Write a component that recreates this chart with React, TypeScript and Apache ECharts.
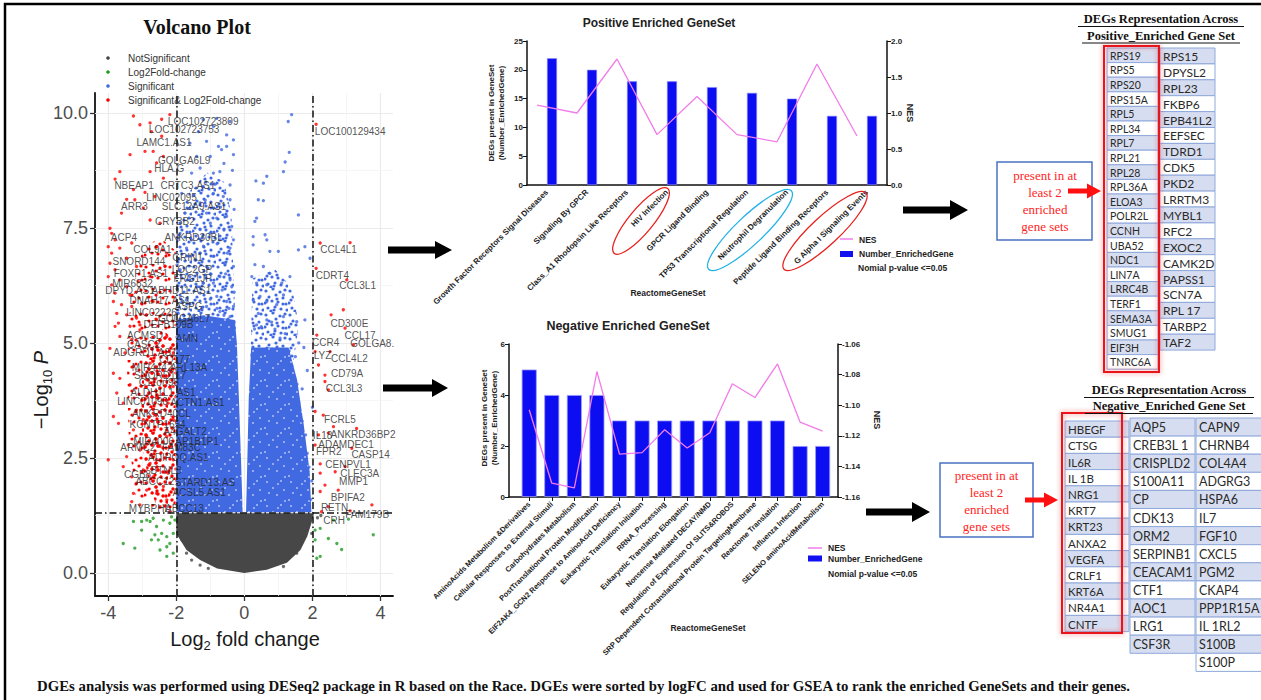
import React, { useEffect, useRef } from "react";
import * as echarts from "echarts";

// ---------------- Volcano plot data ----------------
const volcanoXTicks = [-4, -2, 0, 2, 4];
const volcanoYTicks = [0, 2.5, 5, 7.5, 10];
const volcanoXMinor = [-3, -1, 1, 3];
const volcanoYMinor = [1.25, 3.75, 6.25, 8.75];
const fcCutoffs = [-2, 2];
const pCutoff = 1.3;

// outlines of the dense parts of the point clouds
const greyCore = [[-2.0, 1.3], [2.05, 1.3], [1.98, 1.1], [1.85, 0.8], [1.65, 0.5], [1.25, 0.22], [0.66, 0.07], [0.0, 0.0], [-0.8, 0.1], [-1.3, 0.28], [-1.7, 0.5], [-2.0, 0.85]];
const blueCoreLeft = [[-2.0, 1.32], [-0.05, 1.32], [-0.1, 2.5], [-0.16, 3.8], [-0.22, 5.0], [-0.28, 5.5], [-1.2, 5.6], [-2.0, 5.5]];
const blueMidLeft = [[-2.0, 5.3], [-0.25, 5.3], [-0.32, 6.5], [-0.38, 7.8], [-0.6, 8.5], [-1.1, 8.7], [-1.6, 8.3], [-2.0, 7.6]];
const blueCoreRight = [[0.05, 1.32], [1.97, 1.32], [1.92, 2.2], [1.75, 3.2], [1.55, 4.2], [1.3, 4.9], [0.2, 4.9], [0.13, 3.8], [0.09, 2.5]];
const blueMidRight = [[0.18, 4.7], [1.45, 4.6], [1.6, 5.4], [1.4, 6.2], [0.9, 6.6], [0.24, 6.4]];
const redCore = [[-2.02, 1.4], [-2.02, 5.0], [-2.4, 5.3], [-2.85, 4.9], [-3.05, 4.0], [-3.0, 2.8], [-2.8, 1.9], [-2.55, 1.4]];
const redMid = [[-2.02, 5.0], [-2.02, 7.0], [-2.5, 7.3], [-3.0, 7.0], [-3.35, 6.0], [-3.45, 4.5], [-3.4, 3.0], [-3.2, 1.6], [-2.6, 1.4]];

const greyPoints = [[1.64, 1.15], [1.83, 1.01], [1.74, 0.79], [1.44, 0.57], [1.54, 0.43], [1.25, 0.28], [1.93, 1.15], [1.98, 0.86], [-1.7, 0.43], [-1.55, 0.28], [-1.3, 0.17], [-1.84, 0.72], [-1.06, 0.1], [1.15, 0.14], [2.15, 1.2], [2.25, 1.25]];
const greenPoints = [[-3.56, 0.64], [-3.22, 0.54], [-3.26, 1.12], [-3.02, 0.93], [-2.73, 0.72], [-2.58, 1.01], [-2.48, 0.5], [-2.28, 0.36], [-2.19, 0.64], [-2.09, 0.86], [-2.38, 1.15], [-2.68, 1.19], [-2.19, 1.08], [-2.04, 1.15], [-2.87, 1.15], [-2.28, 0.79], [-2.09, 0.43], [-2.43, 0.86], [-2.77, 1.12], [-2.14, 1.22], [-2.63, 0.83], [-3.02, 1.12], [-2.28, 0.57], [-2.53, 0.72], [2.08, 0.93], [2.23, 0.97], [2.47, 0.75], [2.08, 0.72], [2.72, 0.64], [2.86, 0.51], [2.13, 0.32], [2.23, 0.36], [3.79, 0.83], [2.62, 1.15], [3.06, 1.17]];
const bluePoints = [
  [1.39, 9.96], [1.29, 9.81], [1.32, 9.14], [1.2, 8.93], [1.15, 8.72], [0.66, 8.62], [0.34, 8.52], [0.56, 8.47], [0.41, 8.11], [0.56, 8.09], [1.59, 7.78], [0.36, 7.71], [0.31, 7.64], [0.26, 7.31], [0.61, 7.35], [0.26, 7.13], [0.66, 7.24], [0.75, 6.99], [1.0, 6.99], [1.59, 7.02], [1.93, 6.84], [1.78, 7.09], [0.31, 6.7], [0.56, 6.66], [0.75, 6.51], [0.22, 6.44], [0.36, 6.3], [0.66, 6.26], [1.1, 6.3], [1.34, 6.44], [0.46, 6.01], [0.26, 5.93], [0.66, 5.9], [0.95, 5.83], [1.15, 6.04], [0.41, 5.64], [0.66, 5.5], [1.15, 5.57], [1.54, 5.46], [1.78, 5.5], [0.36, 5.39],
  [1.95, 1.6], [1.9, 2.3], [1.85, 2.6], [1.7, 3.3], [1.6, 3.7], [1.55, 4.1], [1.4, 4.5], [1.7, 4.0], [1.8, 3.0], [1.98, 2.0], [1.3, 4.8], [1.5, 4.7], [1.6, 5.0], [1.2, 5.2], [0.9, 5.3], [0.3, 5.3], [0.5, 5.35], [0.8, 5.45], [1.05, 5.1], [1.85, 4.4], [1.75, 4.9], [2.0, 3.6],
  [-0.91, 9.7], [-0.52, 9.52], [-1.11, 9.38], [-0.76, 9.27], [-0.32, 9.09], [-0.67, 9.2], [-1.3, 8.8], [-0.91, 8.69], [-0.72, 8.72], [-0.42, 8.43], [-1.21, 8.4], [-0.91, 8.25], [-0.62, 8.18], [-0.42, 8.11], [-1.3, 8.04], [-1.11, 7.82], [-0.81, 7.71], [-0.52, 7.75], [-0.37, 7.53], [-1.3, 7.46], [-1.01, 7.38], [-0.72, 7.24], [-0.42, 7.06], [-0.32, 7.24], [-1.7, 7.06], [-1.3, 6.95], [-0.91, 6.88], [-0.57, 6.73], [-0.32, 6.66], [-1.11, 6.66], [-0.72, 6.44], [-0.42, 6.37], [-1.6, 6.44], [-0.91, 6.3], [-0.37, 6.22], [-1.3, 6.08], [-0.81, 6.01], [-0.52, 5.9], [-0.32, 5.79], [-1.7, 5.93], [-1.11, 5.79], [-0.72, 5.68], [-0.42, 5.57], [-0.91, 5.5], [-1.3, 5.39], [-1.79, 5.61], [-0.32, 5.32],
  [-1.89, 7.38], [-1.75, 7.82], [-1.84, 8.25], [-1.55, 8.69], [-1.4, 9.05], [-1.6, 9.34], [-1.35, 9.59], [-1.21, 9.85], [-0.81, 9.88], [-0.42, 9.81], [-0.32, 9.41], [-0.52, 9.27], [-1.89, 6.59], [-1.84, 6.22], [-1.94, 5.64], [-1.5, 5.57], [-1.4, 6.22], [-1.45, 6.8], [-1.55, 7.24],
  [-0.6, 8.9], [-1.0, 9.05], [-0.35, 8.75], [-0.85, 8.45], [-1.15, 8.1], [-0.7, 7.95], [-0.3, 7.9], [-1.0, 7.6], [-0.6, 7.45], [-1.2, 7.1], [-0.8, 7.15], [-0.5, 6.95], [-1.0, 6.5], [-0.55, 6.5], [-0.3, 6.1], [-1.2, 6.3], [-0.65, 6.15], [-1.0, 5.95], [-0.45, 5.75], [-0.8, 5.75], [-0.6, 5.6], [-1.25, 5.75], [-1.6, 5.5], [-1.85, 5.2], [-1.7, 5.25],
];
const redPoints = [
  [-3.26, 9.93], [-2.43, 9.86], [-2.19, 9.96], [-2.77, 9.78], [-3.07, 9.74], [-2.73, 9.59], [-2.43, 9.49], [-3.36, 9.09], [-2.92, 9.16], [-2.68, 9.16], [-2.38, 9.05], [-3.66, 8.72], [-2.77, 8.72], [-2.58, 8.91], [-3.8, 8.56], [-2.38, 8.58], [-3.26, 8.33], [-2.92, 8.27], [-3.46, 8.12], [-3.22, 8.11], [-2.63, 8.18], [-3.61, 7.82], [-2.97, 7.93], [-2.77, 7.67], [-2.48, 7.6], [-3.95, 7.49], [-3.9, 7.38], [-3.8, 7.24], [-4.0, 7.09], [-3.66, 7.06], [-3.31, 7.17], [-2.58, 7.09], [-3.9, 6.95], [-3.95, 6.73], [-3.46, 6.84], [-3.17, 6.66], [-3.8, 6.59], [-4.0, 6.44], [-3.66, 6.37], [-3.9, 6.26], [-3.46, 6.22], [-3.12, 6.33], [-2.77, 6.44], [-2.33, 6.66], [-2.28, 6.95], [-3.8, 6.08], [-3.36, 6.04], [-3.85, 5.9], [-3.61, 5.83], [-3.31, 5.79], [-3.02, 5.86], [-2.68, 5.9], [-3.75, 5.64], [-3.46, 5.61], [-3.17, 5.54], [-2.87, 5.61], [-2.58, 5.5], [-3.7, 5.43], [-3.36, 5.36], [-3.07, 5.39],
  [-3.95, 4.88], [-3.8, 5.36], [-3.66, 5.14], [-3.51, 4.78], [-3.85, 4.34], [-3.66, 4.23], [-3.75, 3.91], [-3.56, 3.69], [-3.85, 3.4], [-3.7, 3.25], [-4.0, 2.46], [-3.56, 2.31], [-3.41, 2.78], [-3.46, 2.53], [-3.31, 2.09], [-3.26, 1.73], [-3.31, 1.55], [-3.07, 1.48], [-2.87, 1.8], [-3.17, 1.95], [-3.36, 4.09], [-3.26, 4.49], [-3.31, 5.07], [-3.07, 5.28], [-3.17, 3.54], [-3.26, 3.11], [-2.97, 3.33], [-3.07, 2.67], [-2.77, 2.38], [-2.68, 2.09], [-2.58, 1.73], [-2.48, 1.44], [-2.28, 1.59], [-2.19, 1.33], [-2.38, 1.88], [-2.24, 2.17], [-2.09, 2.46], [-2.14, 2.75], [-2.28, 2.96], [-2.09, 3.33], [-2.24, 3.69], [-2.09, 4.05], [-2.19, 4.41], [-2.09, 4.78], [-2.28, 5.14], [-2.58, 4.92], [-2.77, 4.56], [-2.87, 4.2], [-2.58, 3.83], [-2.68, 3.47], [-2.87, 2.96], [-2.48, 2.75], [-2.97, 2.24], [-2.58, 2.46],
  [2.11, 9.75], [2.23, 7.17], [3.11, 7.18], [2.11, 6.62], [3.01, 6.37], [2.91, 5.72], [2.55, 5.61], [2.96, 5.32], [2.13, 5.17], [3.21, 4.96], [2.08, 4.81], [2.52, 4.81], [2.18, 4.52], [2.37, 4.3], [2.37, 4.16], [2.47, 3.98], [2.08, 3.51], [2.32, 3.43], [2.62, 3.18], [3.3, 3.14], [2.18, 3.0], [2.47, 3.04], [2.08, 2.78], [3.16, 2.71], [2.23, 2.37], [2.96, 2.31], [2.67, 2.2], [2.23, 2.17], [2.37, 1.91], [2.23, 1.77], [2.76, 1.8], [2.47, 1.44], [2.27, 1.33], [3.75, 1.48], [3.11, 1.35],
];
const geneLabels: [number, number, string][] = [
  [-1.21, 9.8, "LOC102723809"], [-1.77, 9.63, "LOC102723753"], [-2.36, 9.35, "LAMC1.AS1"], [-1.77, 8.96, "GOLGA6L9"], [-2.21, 8.78, "HLA.G"], [-3.24, 8.41, "NBEAP1"], [-1.66, 8.43, "CRTC3.AS1"], [-2.14, 8.17, "LINC02095"], [-3.23, 7.96, "ARR3"], [-1.48, 7.96, "SLC12A9.AS1"], [-2.04, 7.63, "CRYBB2"], [-3.54, 7.28, "ACP4"], [-1.49, 7.3, "ANKRD30BL"], [-2.7, 7.04, "COL9A1"], [-1.67, 6.85, "GRIN1"], [-3.1, 6.76, "SNORD144"], [-1.54, 6.59, "LOC2GP"], [-3.04, 6.5, "FOXP1.AS1"], [-1.52, 6.41, "FRG1JP"], [-3.29, 6.3, "MIR6832"], [-3.36, 6.13, "DPYD.AS1"], [-1.85, 6.13, "ABHD11.AS1"], [-2.48, 5.93, "DNAH17.AS1"], [-1.64, 5.8, "ASPG"], [-2.73, 5.67, "LINC02226"], [-1.77, 5.52, "GOLGA6L7"], [-2.23, 5.39, "DEFB109B"], [-2.92, 5.17, "ACMSD"], [-1.69, 5.09, "AMN"], [-2.96, 4.96, "CASC2"], [-2.92, 4.8, "ADGRD1.AS1"], [-2.05, 4.63, "CD177"], [-2.71, 4.46, "MIR4442"], [-1.64, 4.46, "ARL13A"], [-2.48, 4.3, "SNORD117"], [-2.51, 4.13, "C11orf98"], [-2.39, 3.93, "ALDH1L1.AS1"], [-2.99, 3.72, "LINC01090"], [-1.38, 3.7, "ACTN1.AS1"], [-2.44, 3.46, "ANKRD40CL"], [-2.55, 3.22, "KCNTP1654"], [-1.74, 3.07, "A4GALT2"], [-2.67, 2.85, "MIR4006"], [-1.39, 2.85, "AP1B1P1"], [-3.13, 2.72, "ARMC2"], [-1.85, 2.72, "FAM83C"], [-1.94, 2.5, "ADIPOQ.AS1"], [-2.3, 2.22, "BTNL8"], [-3.14, 2.15, "CGB8"], [-2.63, 1.98, "ABCC12"], [-1.16, 1.96, "STARD13.AS"], [-1.33, 1.74, "ACSL5.AS1"], [-2.79, 1.41, "MYBPHL"], [-1.76, 1.41, "ABCC13"],
  [3.11, 9.59, "LOC100129434"], [2.77, 7.02, "CCL4L1"], [2.59, 6.46, "CDRT4"], [3.33, 6.24, "CCL3L1"], [3.09, 5.43, "CD300E"], [3.4, 5.15, "CCL17"], [3.76, 4.98, "GOLGA8."], [2.39, 5.0, "CCR4"], [2.3, 4.72, "LYZ"], [3.09, 4.67, "CCL4L2"], [3.02, 4.33, "CD79A"], [2.93, 4.0, "CCL3L3"], [2.81, 3.33, "FCRL5"], [3.49, 3.02, "ANKRD36BP2"], [2.3, 2.98, "IL18"], [2.99, 2.8, "ADAMDEC1"], [2.48, 2.63, "FPR2"], [3.71, 2.57, "CASP14"], [3.05, 2.35, "CENPVL1"], [3.39, 2.17, "CLEC3A"], [3.21, 1.98, "MMP1"], [3.04, 1.65, "BPIFA2"], [2.65, 1.43, "RETN"], [3.61, 1.28, "FAM179B"], [2.64, 1.15, "CRH"],
];
const volcanoLegend = ["NotSignificant", "Log2Fold-change", "Significant", "Significant& Log2Fold-change"];

// ---------------- Enriched gene set data ----------------
const posCats = ["Growth Factor Receptors Signal Diseases", "Signaling By GPCR", "Class_A1 Rhodopsin Like Receptors", "HIV Infection", "GPCR Ligand Binding", "TP53 Transcriptional Regulation", "Neutrophil Degranulation", "Peptide Ligand Binding Receptors", "G Alpha I Signaling Events"];
const posCounts = [22, 20, 18, 18, 17, 16, 15, 12, 12];
const posNES = [1.11, 1.0, 1.75, 0.7, 1.23, 0.7, 0.6, 1.68, 0.68];

const negCats = ["AminoAcids Metabolism &Derivatives", "Cellular Responses to External Stimuli", "Carbohydrates Metabolism", "PostTranslational Protein Modification", "EIF2AK4_GCN2 Response to AminoAcid Deficiency", "Eukaryotic Translation Initiation", "RRNA_Processing", "Eukaryotic Translation Elongation", "Nonsense Mediated DECAY/NMD", "Regulation of Expression Of SLITS&ROBOS", "SRP Dependent Cotranslational Protein TargetingMembrane", "Reactome Translation", "Influenza Infection", "SELENO aminoAcidMetabolism"];
const negCounts = [5, 4, 4, 4, 3, 3, 3, 3, 3, 3, 3, 3, 2, 2];
const negNES = [-1.103, -1.151, -1.154, -1.078, -1.132, -1.131, -1.116, -1.128, -1.118, -1.086, -1.095, -1.073, -1.111, -1.117];

const legendLabels = ["NES", "Number_EnrichedGene", "Nomial p-value <=0.05"];

// ---------------- Gene tables ----------------
const posGenesShared = ["RPS19", "RPS5", "RPS20", "RPS15A", "RPL5", "RPL34", "RPL7", "RPL21", "RPL28", "RPL36A", "ELOA3", "POLR2L", "CCNH", "UBA52", "NDC1", "LIN7A", "LRRC4B", "TERF1", "SEMA3A", "SMUG1", "EIF3H", "TNRC6A"];
const posGenesOther = ["RPS15", "DPYSL2", "RPL23", "FKBP6", "EPB41L2", "EEFSEC", "TDRD1", "CDK5", "PKD2", "LRRTM3", "MYBL1", "RFC2", "EXOC2", "CAMK2D", "PAPSS1", "SCN7A", "RPL 17", "TARBP2", "TAF2"];
const negGenesShared = ["HBEGF", "CTSG", "IL6R", "IL 1B", "NRG1", "KRT7", "KRT23", "ANXA2", "VEGFA", "CRLF1", "KRT6A", "NR4A1", "CNTF"];
const negGenesOtherA = ["AQP5", "CREB3L 1", "CRISPLD2", "S100A11", "CP", "CDK13", "ORM2", "SERPINB1", "CEACAM1", "CTF1", "AOC1", "LRG1", "CSF3R"];
const negGenesOtherB = ["CAPN9", "CHRNB4", "COL4A4", "ADGRG3", "HSPA6", "IL7", "FGF10", "CXCL5", "PGM2", "CKAP4", "PPP1R15A", "IL 1RL2", "S100B", "S100P"];

const boxLines = ["present in at", "least 2", "enriched", "gene sets"];
const caption = "DGEs analysis was performed using DESeq2 package in R based on the Race. DGEs were sorted by logFC and used for GSEA to rank the enriched GeneSets and their genes.";

const SANS = "Liberation Sans, Arial, sans-serif";
const SERIF = "Liberation Serif, Times New Roman, serif";
const CELL = "Lato, Carlito, sans-serif";

// dotted texture tiles (style only) used to fill dense parts of the clouds
const TILE_MED = [[2, 3], [9, 1], [16, 4], [21, 2], [5, 9], [12, 7], [19, 10], [1, 15], [8, 13], [14, 14], [22, 16], [4, 20], [11, 19], [17, 21], [23, 22], [7, 23], [13, 11], [19, 16], [3, 12], [10, 22]];
const TILE_SPECK = [[3, 2], [9, 8], [5, 13], [14, 4], [13, 15], [20, 10], [21, 21], [1, 20], [17, 1]];

function dotPattern(color: string, dots: number[][], r: number, bg: string | null) {
  const size = 24;
  const svg = `<svg xmlns='http://www.w3.org/2000/svg' width='${size}' height='${size}'>` +
    (bg ? `<rect width='${size}' height='${size}' fill='${bg}'/>` : "") +
    dots.map((d) => `<circle cx='${d[0]}' cy='${d[1]}' r='${r}' fill='${color}'/>`).join("") + `</svg>`;
  return { image: "data:image/svg+xml;charset=utf-8," + encodeURIComponent(svg), repeat: "repeat", imageWidth: size, imageHeight: size };
}

function txt(x: number, y: number, text: string, o: any = {}) {
  const align = o.align || "left";
  const va = o.va || "middle";
  return {
    type: "text", x, y, silent: true, rotation: o.rotation || 0, z: o.z || 50,
    style: {
      text, fontSize: o.size || 10, fontFamily: o.family || SANS, fontWeight: o.weight || "normal",
      fontStyle: o.fstyle || "normal", fill: o.color || "#222",
      align, verticalAlign: va, textAlign: align, textVerticalAlign: va, rich: o.rich,
    },
  };
}

function arrow(x1: number, x2: number, y: number, shaft: number, headH: number, headL: number, color: string) {
  const hb = x2 - headL;
  return {
    type: "polygon", silent: true, z: 40,
    shape: { points: [[x1, y - shaft / 2], [hb, y - shaft / 2], [hb, y - headH / 2], [x2, y], [hb, y + headH / 2], [hb, y + shaft / 2], [x1, y + shaft / 2]] },
    style: { fill: color },
  };
}

function tableCol(names: string[], x: number, top: number, w: number, h: number, fs: number, els: any[]) {
  names.forEach((n, i) => {
    els.push({
      type: "rect", silent: true, z: 20,
      shape: { x, y: top + i * h, width: w, height: h },
      style: { fill: i % 2 === 0 ? "#d7ddf0" : "#ffffff", stroke: "#8fa9db", lineWidth: 1 },
    });
    els.push(txt(x + 3, top + i * h + h / 2 + 0.5, n, { size: fs, family: CELL, color: "#2a2a2a", z: 21 }));
  });
}

function polySeries(pts: number[][], fill: any, z: number) {
  return {
    type: "custom", xAxisIndex: 0, yAxisIndex: 0, z, silent: true,
    data: [pts[0]],
    renderItem: (_p: any, api: any) => ({
      type: "polygon",
      shape: { points: pts.map((p) => api.coord(p)) },
      style: { fill },
    }),
  };
}

function scatter(pts: number[][], color: string, z: number) {
  return {
    type: "scatter", xAxisIndex: 0, yAxisIndex: 0, z, silent: true,
    symbolSize: 3.3, itemStyle: { color }, data: pts,
  };
}

function buildOption() {
  const els: any[] = [];
  els.push({ type: "rect", silent: true, z: 60, shape: { x: 5, y: 4, width: 1260, height: 700 }, style: { fill: "none", stroke: "#000", lineWidth: 2.5 } });

  els.push(txt(197, 27, "Volcano Plot", { size: 20, family: SERIF, weight: "bold", align: "center", color: "#111" }));
  const legColors = ["#444444", "#1f9a1f", "#4169e1", "#ff0000"];
  volcanoLegend.forEach((l, i) => {
    els.push({ type: "circle", silent: true, z: 50, shape: { cx: 108, cy: 58 + i * 14, r: 1.8 }, style: { fill: legColors[i] } });
    els.push(txt(128, 58 + i * 14, l, { size: 10, color: "#333" }));
  });
  els.push(txt(41, 390, "{a|−Log}{b|10}{c| P}", {
    rotation: Math.PI / 2, align: "center",
    rich: {
      a: { fontSize: 20, fontFamily: SANS, fill: "#1a1a1a", color: "#1a1a1a", lineHeight: 26, verticalAlign: "middle" },
      b: { fontSize: 13, fontFamily: SANS, fill: "#1a1a1a", color: "#1a1a1a", lineHeight: 26, verticalAlign: "bottom" },
      c: { fontSize: 20, fontFamily: SANS, fontStyle: "italic", fill: "#1a1a1a", color: "#1a1a1a", lineHeight: 26, verticalAlign: "middle" },
    },
  }));
  els.push(txt(245, 639, "{a|Log}{b|2}{a| fold change}", {
    align: "center",
    rich: {
      a: { fontSize: 20, fontFamily: SANS, fill: "#1a1a1a", color: "#1a1a1a", lineHeight: 26, verticalAlign: "middle" },
      b: { fontSize: 13, fontFamily: SANS, fill: "#1a1a1a", color: "#1a1a1a", lineHeight: 26, verticalAlign: "bottom" },
    },
  }));

  els.push(txt(659, 23, "Positive Enriched GeneSet", { size: 12, weight: "bold", align: "center", color: "#222" }));
  els.push(txt(491, 113, "DEGs present in GeneSet", { size: 8, weight: "bold", align: "center", rotation: Math.PI / 2 }));
  els.push(txt(501, 113, "(Number_EnrichedGene)", { size: 8, weight: "bold", align: "center", rotation: Math.PI / 2 }));
  els.push(txt(910, 113, "NES", { size: 9, weight: "bold", align: "center", rotation: -Math.PI / 2 }));
  els.push(txt(668, 293, "ReactomeGeneSet", { size: 8.5, weight: "bold", align: "center" }));
  els.push({ type: "line", silent: true, z: 50, shape: { x1: 840, y1: 239, x2: 853, y2: 239 }, style: { stroke: "#f27ce9", lineWidth: 1.5 } });
  els.push({ type: "rect", silent: true, z: 50, shape: { x: 840, y: 251, width: 13, height: 6 }, style: { fill: "#1010f0" } });
  els.push(txt(859, 239.5, legendLabels[0], { size: 8.5, weight: "bold" }));
  els.push(txt(859, 254, legendLabels[1], { size: 8.5, weight: "bold" }));
  els.push(txt(858, 268, legendLabels[2], { size: 8.5, weight: "bold" }));
  els.push({ type: "ellipse", silent: true, z: 45, x: 641, y: 221, rotation: 0.88, shape: { cx: 0, cy: 0, rx: 42, ry: 12 }, style: { fill: "none", stroke: "#e8201c", lineWidth: 1.3 } });
  els.push({ type: "ellipse", silent: true, z: 45, x: 750, y: 230, rotation: 0.76, shape: { cx: 0, cy: 0, rx: 57, ry: 14 }, style: { fill: "none", stroke: "#22b2e6", lineWidth: 1.3 } });
  els.push({ type: "ellipse", silent: true, z: 45, x: 825, y: 231, rotation: 0.75, shape: { cx: 0, cy: 0, rx: 56, ry: 14 }, style: { fill: "none", stroke: "#e8201c", lineWidth: 1.3 } });

  els.push(txt(628, 326, "Negative Enriched GeneSet", { size: 12.5, weight: "bold", align: "center", color: "#222" }));
  els.push(txt(484, 418, "DEGs present in GeneSet", { size: 8, weight: "bold", align: "center", rotation: Math.PI / 2 }));
  els.push(txt(494, 418, "(Number_EnrichedGene)", { size: 8, weight: "bold", align: "center", rotation: Math.PI / 2 }));
  els.push(txt(877, 420, "NES", { size: 9, weight: "bold", align: "center", rotation: -Math.PI / 2 }));
  els.push(txt(708, 628, "ReactomeGeneSet", { size: 8.5, weight: "bold", align: "center" }));
  els.push({ type: "line", silent: true, z: 50, shape: { x1: 808, y1: 548, x2: 822, y2: 548 }, style: { stroke: "#f27ce9", lineWidth: 1.5 } });
  els.push({ type: "rect", silent: true, z: 50, shape: { x: 808, y: 555.5, width: 14, height: 6 }, style: { fill: "#1010f0" } });
  els.push(txt(828, 548, legendLabels[0], { size: 8.5, weight: "bold" }));
  els.push(txt(828, 558.5, legendLabels[1], { size: 8.5, weight: "bold" }));
  els.push(txt(828, 574, legendLabels[2], { size: 8.5, weight: "bold" }));

  els.push(arrow(388, 452, 250, 7, 18, 17, "#000"));
  els.push(arrow(383, 448, 388, 7, 18, 16, "#000"));
  els.push(arrow(903, 968, 210, 7, 20, 18, "#000"));
  els.push(arrow(866, 930, 512, 7, 20, 18, "#000"));

  els.push({ type: "rect", silent: true, z: 30, shape: { x: 997, y: 162, width: 95, height: 78 }, style: { fill: "#fff", stroke: "#4a72c4", lineWidth: 1.5 } });
  boxLines.forEach((l, i) => els.push(txt(1045, 175.5 + i * 17, l, { size: 13, family: SERIF, color: "#ff2424", align: "center", z: 31 })));
  els.push(arrow(1068, 1101, 191, 5, 15, 14, "#ff1010"));
  els.push({ type: "rect", silent: true, z: 30, shape: { x: 940, y: 463, width: 93, height: 74 }, style: { fill: "#fff", stroke: "#4a72c4", lineWidth: 1.5 } });
  boxLines.forEach((l, i) => els.push(txt(986.5, 475.5 + i * 17, l, { size: 13, family: SERIF, color: "#ff2424", align: "center", z: 31 })));
  els.push(arrow(1025, 1058, 500, 5, 15, 14, "#ff1010"));

  els.push(txt(1161, 19, "DEGs Representation Across", { size: 12.5, family: SERIF, weight: "bold", align: "center", color: "#111" }));
  els.push(txt(1161, 35.5, "Positive_Enriched Gene Set", { size: 12.5, family: SERIF, weight: "bold", align: "center", color: "#111" }));
  els.push({ type: "line", silent: true, z: 50, shape: { x1: 1078, y1: 26.5, x2: 1244, y2: 26.5 }, style: { stroke: "#111", lineWidth: 1 } });
  els.push({ type: "line", silent: true, z: 50, shape: { x1: 1082, y1: 43, x2: 1240, y2: 43 }, style: { stroke: "#111", lineWidth: 1 } });
  els.push(txt(1169, 390, "DEGs Representation Across", { size: 12.5, family: SERIF, weight: "bold", align: "center", color: "#111" }));
  els.push(txt(1169, 406, "Negative_Enriched Gene Set", { size: 12.5, family: SERIF, weight: "bold", align: "center", color: "#111" }));
  els.push({ type: "line", silent: true, z: 50, shape: { x1: 1084, y1: 397.5, x2: 1254, y2: 397.5 }, style: { stroke: "#111", lineWidth: 1 } });
  els.push({ type: "line", silent: true, z: 50, shape: { x1: 1085, y1: 413.5, x2: 1253, y2: 413.5 }, style: { stroke: "#111", lineWidth: 1 } });

  tableCol(posGenesShared, 1107, 48, 51, 14.6, 10.5, els);
  tableCol(posGenesOther, 1160, 48, 55, 15.9, 12, els);
  tableCol(negGenesShared, 1065, 421, 64, 16.2, 11.5, els);
  tableCol(negGenesOtherA, 1130, 418, 65, 18.1, 12.5, els);
  tableCol(negGenesOtherB, 1196, 418, 66, 18.1, 12.5, els);
  els.push({ type: "rect", silent: true, z: 25, shape: { x: 1104, y: 46, width: 55, height: 326 }, style: { fill: "none", stroke: "#e8141c", lineWidth: 2, shadowBlur: 5, shadowColor: "rgba(255,40,40,0.6)" } });
  els.push({ type: "rect", silent: true, z: 25, shape: { x: 1062, y: 413, width: 60, height: 220 }, style: { fill: "none", stroke: "#e8141c", lineWidth: 2, shadowBlur: 5, shadowColor: "rgba(255,40,40,0.6)" } });

  els.push(txt(37, 686, caption, { size: 14.8, family: SERIF, weight: "bold", color: "#111" }));

  const axisBlack = { show: true, onZero: false, lineStyle: { color: "#111", width: 1.5 } };
  const smallLabel = { fontSize: 8, fontWeight: "bold", color: "#222", fontFamily: SANS };
  const negIdx = negCats.map((_, i) => i);

  const blueDense = dotPattern("#ffffff", TILE_SPECK, 0.8, "#4169e1");
  const blueMed = dotPattern("#4169e1", TILE_MED, 1.6, null);
  const redDense = dotPattern("#ff0000", TILE_MED, 1.7, null);
  const redMedium = dotPattern("#ff0000", TILE_MED.slice(0, 11), 1.6, null);

  const series: any[] = [
    {
      type: "line", xAxisIndex: 0, yAxisIndex: 0, data: [], silent: true,
      markLine: {
        silent: true, symbol: "none", z: 1, label: { show: false },
        lineStyle: { color: "#ebebeb", width: 1.2, type: "solid" },
        data: [
          ...volcanoXTicks.map((v) => ({ xAxis: v })),
          ...volcanoYTicks.map((v) => ({ yAxis: v })),
          ...volcanoXMinor.map((v) => ({ xAxis: v, lineStyle: { color: "#f2f2f2", width: 0.7, type: "solid" } })),
          ...volcanoYMinor.map((v) => ({ yAxis: v, lineStyle: { color: "#f2f2f2", width: 0.7, type: "solid" } })),
        ],
      },
    },
    polySeries(greyCore, "#474747", 2),
    polySeries(blueMidLeft, blueMed, 2),
    polySeries(blueMidRight, blueMed, 2),
    polySeries(blueCoreLeft, blueDense, 2),
    polySeries(blueCoreRight, blueDense, 2),
    polySeries(redMid, redMedium, 2),
    polySeries(redCore, redDense, 2),
    scatter(greyPoints, "#474747", 3),
    scatter(greenPoints, "#1f9a1f", 3),
    scatter(bluePoints, "#4169e1", 3),
    scatter(redPoints, "#ff0000", 3),
    {
      type: "line", xAxisIndex: 0, yAxisIndex: 0, data: [], silent: true,
      markLine: {
        silent: true, symbol: "none", z: 6, label: { show: false },
        lineStyle: { color: "#111", width: 1.5, type: [7, 3, 1.5, 3] },
        data: [...fcCutoffs.map((v) => ({ xAxis: v })), { yAxis: pCutoff }],
      },
    },
    {
      type: "scatter", xAxisIndex: 0, yAxisIndex: 0, z: 8, silent: true, symbolSize: 0,
      data: geneLabels.map((g) => ({ value: [g[0], g[1]], name: g[2] })),
      label: { show: true, position: "inside", formatter: "{b}", fontSize: 10, color: "#262626", fontFamily: SANS },
      labelLayout: { hideOverlap: false },
    },
    { type: "bar", xAxisIndex: 1, yAxisIndex: 1, barWidth: 10, barGap: "0%", data: posCounts.map(() => "-"), silent: true },
    { type: "bar", xAxisIndex: 1, yAxisIndex: 1, barWidth: 10, barGap: "0%", data: posCounts, silent: true, itemStyle: { color: "#0d0df2", borderColor: "#8b8bff", borderWidth: 0.6 } },
    { type: "line", xAxisIndex: 2, yAxisIndex: 2, data: posNES.map((v, i) => [i, v]), showSymbol: false, silent: true, z: 4, lineStyle: { color: "#f27ce9", width: 1.3 } },
    { type: "bar", xAxisIndex: 3, yAxisIndex: 3, barWidth: 15, data: negCounts.map((v, i) => [i, v]), silent: true, itemStyle: { color: "#0d0df2", borderColor: "#9a9aff", borderWidth: 0.8 } },
    { type: "line", xAxisIndex: 3, yAxisIndex: 4, data: negNES.map((v, i) => [i, v]), showSymbol: false, silent: true, z: 4, lineStyle: { color: "#f27ce9", width: 1.3 } },
  ];

  return {
    animation: false,
    backgroundColor: "#ffffff",
    textStyle: { fontFamily: SANS },
    grid: [
      { left: 95, top: 93, width: 298, height: 503, containLabel: false, outerBoundsMode: "none" },
      { left: 527, top: 41, width: 360, height: 144, containLabel: false, outerBoundsMode: "none" },
      { left: 509, top: 344, width: 329, height: 153, containLabel: false, outerBoundsMode: "none" },
    ],
    xAxis: [
      {
        type: "value", gridIndex: 0, min: -4.39, max: 4.37, axisLine: { ...axisBlack, lineStyle: { color: "#111", width: 1.8 } },
        axisTick: { show: true, customValues: volcanoXTicks, length: 5, lineStyle: { color: "#333", width: 1.3 } },
        axisLabel: { customValues: volcanoXTicks, fontSize: 18, color: "#4d4d4d", margin: 8, fontFamily: SANS, formatter: (v: number) => String(v) },
        splitLine: { show: false },
      },
      {
        type: "category", gridIndex: 1, data: posCats, boundaryGap: true, axisLine: axisBlack,
        axisTick: { show: false },
        axisLabel: { ...smallLabel, rotate: 45, interval: 0, margin: 6 },
        splitLine: { show: false },
      },
      { type: "value", gridIndex: 1, min: -0.25, max: 8.75, show: false },
      {
        type: "value", gridIndex: 2, min: -0.895, max: 13.68, axisLine: axisBlack,
        axisTick: { show: true, customValues: negIdx, length: 4, lineStyle: { color: "#111", width: 1 } },
        axisLabel: { ...smallLabel, fontSize: 7.5, rotate: 45, margin: 6, customValues: negIdx, formatter: (v: number) => negCats[Math.round(v)] || "" },
        splitLine: { show: false },
      },
    ],
    yAxis: [
      {
        type: "value", gridIndex: 0, min: -0.5, max: 10.43, axisLine: { ...axisBlack, lineStyle: { color: "#111", width: 1.8 } },
        axisTick: { show: true, customValues: volcanoYTicks, length: 5, lineStyle: { color: "#333", width: 1.3 } },
        axisLabel: { customValues: volcanoYTicks, fontSize: 18, color: "#4d4d4d", margin: 7, fontFamily: SANS, formatter: (v: number) => v.toFixed(1) },
        splitLine: { show: false },
      },
      {
        type: "value", gridIndex: 1, min: 0, max: 25, interval: 5, position: "left", axisLine: axisBlack,
        axisTick: { show: true, length: 4, lineStyle: { color: "#111" } }, axisLabel: { ...smallLabel, margin: 4 }, splitLine: { show: false },
      },
      {
        type: "value", gridIndex: 1, min: 0, max: 2, interval: 0.5, position: "right", axisLine: axisBlack,
        axisTick: { show: true, length: 4, lineStyle: { color: "#111" } }, axisLabel: { ...smallLabel, margin: 4, formatter: (v: number) => v.toFixed(1) }, splitLine: { show: false },
      },
      {
        type: "value", gridIndex: 2, min: 0, max: 6, interval: 2, position: "left", axisLine: axisBlack,
        axisTick: { show: true, length: 4, lineStyle: { color: "#111" } }, axisLabel: { ...smallLabel, margin: 4 }, splitLine: { show: false },
      },
      {
        type: "value", gridIndex: 2, min: -1.16, max: -1.06, interval: 0.02, position: "right", axisLine: axisBlack,
        axisTick: { show: true, length: 4, lineStyle: { color: "#111" } }, axisLabel: { ...smallLabel, margin: 4, formatter: (v: number) => v.toFixed(2) }, splitLine: { show: false },
      },
    ],
    series,
    graphic: { elements: els },
  };
}

export default function App() {
  const ref = useRef<HTMLDivElement>(null);
  useEffect(() => {
    if (!ref.current) return;
    const chart = echarts.init(ref.current, null, { renderer: "svg", width: 1261, height: 700 });
    chart.setOption(buildOption() as any);
    return () => chart.dispose();
  }, []);
  return <div ref={ref} style={{ position: "fixed", left: 0, top: 0, width: 1261, height: 700, background: "#fff" }} />;
}
